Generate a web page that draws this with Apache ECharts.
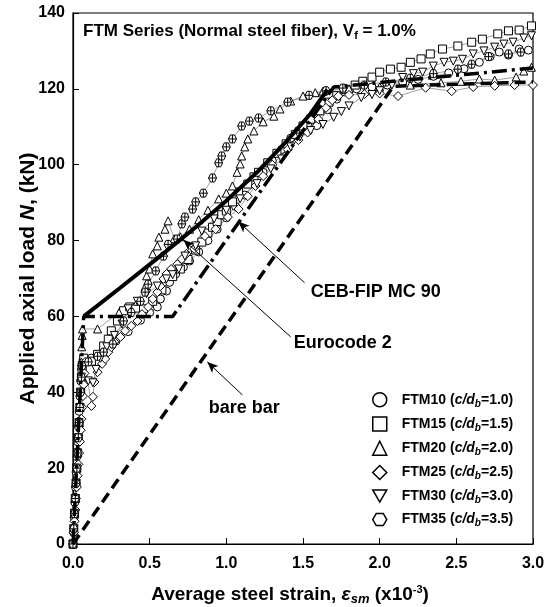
<!DOCTYPE html>
<html>
<head>
<meta charset="utf-8">
<script src="https://cdn.jsdelivr.net/npm/echarts@6/dist/echarts.min.js"></script>
<style>html,body{margin:0;padding:0;background:#fff}#main{width:546px;height:607px}</style>
</head>
<body>
<div id="main"></div>
<script>
// specimens and c/db ratios
var specimens = ['FTM10', 'FTM15', 'FTM20', 'FTM25', 'FTM30', 'FTM35'];
var cdRatios = ['1.0', '1.5', '2.0', '2.5', '3.0', '3.5'];
var strainTicks = [0, 0.5, 1.0, 1.5, 2.0, 2.5, 3.0];
var loadTicks = [0, 20, 40, 60, 80, 100, 120, 140];

// test data [strain x10^-3, load kN]
var ftm10 = [[0,0],[0.004,3],[0.008,7],[0.012,11],[0.016,15],[0.02,19],[0.025,23],[0.03,27],[0.035,31],[0.04,35],[0.045,39],[0.05,43],[0.055,46],[0.065,48.5],
  [0.12,49],[0.2,51],[0.28,53.5],[0.36,56],[0.44,59],[0.5,61],[0.55,62.5],[0.57,64.6],[0.61,66.7],[0.63,69],[0.67,71.2],[0.72,73],[0.76,74.6],[0.82,77],
  [0.88,80],[0.94,83],[1.0,86],[1.06,89],[1.12,92],[1.18,95],[1.24,98],[1.3,101],[1.36,104],[1.42,107],[1.47,109],[1.53,110.7],[1.59,110.3],[1.66,114.5],
  [1.72,117.3],[1.77,119.2],[1.85,120],[1.95,120.5],[2.05,121],[2.15,121.8],[2.25,122.5],[2.35,123.3],[2.45,124.2],[2.55,125.3],[2.65,127],[2.72,128.5],
  [2.78,129.7],[2.84,128.9],[2.91,130.5],[2.97,130.2]];
var ftm15 = [[0,0],[0.005,4],[0.01,8],[0.015,12],[0.02,16],[0.025,20],[0.03,24],[0.035,28],[0.04,32],[0.045,36],[0.05,40],[0.055,44],[0.06,47],[0.07,49],
  [0.12,48.2],[0.16,50],[0.2,52.2],[0.23,54],[0.25,56.2],[0.29,58.8],[0.33,61.5],[0.37,62.5],[0.41,62.2],[0.46,62],[0.52,64],[0.58,67],[0.65,70.5],[0.7,72.5],
  [0.75,75],[0.8,77.5],[0.84,79.6],[0.88,82],[0.91,83.5],[0.94,85],[0.97,86.8],[1.0,87.8],[1.04,90.2],[1.08,92.8],[1.14,94.9],[1.18,96.8],[1.21,98],
  [1.27,100.5],[1.33,103],[1.39,105.5],[1.45,108],[1.5,110.2],[1.55,112],[1.61,114.2],[1.67,116.5],[1.72,118.2],[1.78,119.8],[1.84,121],[1.89,122],
  [1.95,123.1],[2.0,124.4],[2.07,125.2],[2.14,125.7],[2.2,127],[2.27,127.9],[2.33,129.2],[2.41,130.5],[2.51,131.3],[2.6,132.3],[2.67,133.1],[2.77,134.5],
  [2.84,135.3],[2.91,135.5],[2.99,136.6]];
var ftm20 = [[0,0],[0.005,4],[0.01,8],[0.015,12],[0.02,16],[0.025,20],[0.03,24],[0.035,28],[0.04,32],[0.045,36],[0.05,40],[0.052,44],[0.055,48],[0.057,52],
  [0.06,55],[0.062,56.7],[0.16,56.7],[0.3,61],[0.42,64],[0.47,67.8],[0.48,70.7],[0.5,72.5],[0.52,76.5],[0.55,78.6],[0.56,80.9],[0.6,83],[0.62,85.2],
  [0.66,80.5],[0.7,81],[0.76,83],[0.82,85.5],[0.88,88],[0.95,91],[1.0,92.5],[1.04,94.4],[1.07,98],[1.09,100.2],[1.1,102.3],[1.12,104.7],[1.14,106.8],
  [1.18,108.9],[1.24,111.3],[1.31,112.8],[1.35,114.7],[1.42,116.8],[1.5,118.1],[1.58,119],[1.63,119.4],[1.8,120],[2.0,120.5],[2.2,121],[2.4,121.6],
  [2.53,122],[2.65,122.6],[2.75,122.3],[2.89,123.1],[2.94,124.7],[2.99,125.7]];
var ftm25 = [[0,0],[0.005,3],[0.01,6],[0.015,9],[0.02,12],[0.025,15],[0.03,18],[0.035,21],[0.04,24],[0.045,27],[0.05,30],[0.055,33],[0.06,36],[0.065,39],
  [0.07,42],[0.075,45],[0.08,48],[0.12,36.4],[0.13,38.8],[0.14,42.7],[0.16,45.3],[0.19,47.5],[0.21,48.8],[0.23,50.6],[0.25,51.9],[0.27,53.3],[0.31,54.6],
  [0.34,56.2],[0.38,57.5],[0.42,58.8],[0.45,60.6],[0.49,62.5],[0.52,64.6],[0.55,66.4],[0.57,68],[0.59,69.9],[0.61,71.2],[0.64,72.5],[0.68,73.8],[0.71,75.1],
  [0.74,76.5],[0.79,77.8],[0.86,81.2],[0.93,83],[1.01,86.2],[1.08,88.3],[1.14,91.7],[1.19,94.4],[1.24,97],[1.3,100],[1.4,104],[1.47,106.5],[1.53,108.5],
  [1.6,112],[1.65,115],[1.69,117],[1.73,118.1],[1.8,118.4],[1.9,118.6],[2.0,118.8],[2.12,118.1],[2.3,120.3],[2.47,119.4],[2.61,120.5],[2.75,120.8],
  [2.88,121],[3.0,121]];
var ftm30 = [[0,0],[0.005,4],[0.01,8],[0.015,12],[0.02,16],[0.025,20],[0.03,24],[0.035,28],[0.04,32],[0.045,36],[0.05,40],[0.055,44],[0.06,47],[0.1,43],
  [0.13,42.5],[0.15,46],[0.18,49],[0.22,52],[0.27,55],[0.32,58],[0.36,62],[0.42,64],[0.48,66],[0.55,68],[0.61,69.9],[0.65,71],[0.69,72.5],[0.73,75.9],
  [0.8,78.6],[0.84,82.5],[0.92,85.7],[1.0,88],[1.09,91],[1.2,95],[1.29,98.9],[1.36,101.5],[1.42,104.7],[1.48,107.3],[1.55,109],[1.63,110.6],[1.7,112.5],
  [1.75,114],[1.8,115.5],[1.88,117.7],[1.95,118.5],[2.0,119.5],[2.08,121],[2.15,123],[2.22,124],[2.28,124.4],[2.35,126],[2.42,127],[2.48,127.3],[2.54,127.8],
  [2.61,129.2],[2.68,130],[2.75,131],[2.81,131.8],[2.87,132.3],[2.94,133.4],[2.99,134]];
var ftm35 = [[0,0],[0.005,4],[0.01,8],[0.015,12],[0.02,16],[0.025,20],[0.03,24],[0.035,28],[0.04,32],[0.045,36],[0.05,40],[0.055,44],[0.06,47],[0.1,48],
  [0.16,49.5],[0.2,50.6],[0.26,52.7],[0.33,58.8],[0.38,61],[0.44,64],[0.47,66.4],[0.49,68.5],[0.54,72],[0.59,75.9],[0.62,79],[0.68,80.4],[0.71,84.4],
  [0.73,86.2],[0.78,88.3],[0.8,90.2],[0.85,92.5],[0.91,96.5],[0.95,100.5],[0.97,102.3],[1.0,104.7],[1.04,106.8],[1.1,110.2],[1.15,111.5],[1.21,112.3],
  [1.29,114.2],[1.4,116.5],[1.54,118.3],[1.65,119.5],[1.76,120.2],[1.9,121],[2.04,121.8],[2.2,122.8],[2.35,124],[2.51,125.2],[2.6,126.5],[2.71,128.5],
  [2.84,129.2],[2.92,129.7]];

// model predictions
var bareBar = [[0,0],[2.09,120.7],[3.0,121.8]];
var eurocode2 = [[0,0],[0.07,60],[0.65,60],[1.7,120.5],[3.0,125.5]];
var cebFip = [[0.07,60],[0.3,67.3],[0.55,75.3],[0.8,83.5],[1.0,90.5],[1.2,98],[1.4,106.5],[1.55,113.5],[1.66,119.8]];

// arrows: [tail, head] and label anchor
var arrowCeb = [[1.51,68.9],[1.078,85]];
var arrowEc2 = [[1.42,54.6],[0.72,80.2]];
var arrowBare = [[1.105,39.3],[0.876,48]];
var labelCeb = [1.55,66.5];
var labelEc2 = [1.44,53];
var labelBare = [0.885,35.9];

var font = 'Liberation Sans, Arial, sans-serif';
var downTri = 'path://M0,0L20,0L10,17.3Z';
var hexPlain = 'path://M0,8.66L5,0L15,0L20,8.66L15,17.32L5,17.32Z';
var hexCross = 'path://M0,8.66L5,0L15,0L20,8.66L15,17.32L5,17.32Z M10,0L10,17.32 M0,8.66L20,8.66';
var symbols = ['circle', 'rect', 'triangle', 'diamond', downTri, hexCross];
var legendIcons = ['circle', 'rect', 'triangle', 'diamond', downTri, hexPlain];
var allData = [ftm10, ftm15, ftm20, ftm25, ftm30, ftm35];

var chart = echarts.init(document.getElementById('main'));

var series = [];
for (var i = 0; i < specimens.length; i++) {
  series.push({
    name: specimens[i],
    type: 'line',
    data: allData[i],
    symbol: symbols[i],
    symbolSize: i == 3 ? 9 : 8,
    lineStyle: {color: '#8a8a8a', width: 0.8},
    itemStyle: {color: '#fff', borderColor: '#000', borderWidth: 1},
    z: 2
  });
}
series.push({
  name: 'bare', type: 'line', data: bareBar, symbol: 'none', z: 4,
  lineStyle: {color: '#000', width: 3.5, type: [11, 6]},
  markLine: {
    silent: true, symbol: ['none', 'arrow'], symbolSize: [7, 11],
    label: {show: false},
    lineStyle: {color: '#000', width: 1, type: 'solid'},
    data: [
      [{coord: arrowCeb[0]}, {coord: arrowCeb[1]}],
      [{coord: arrowEc2[0]}, {coord: arrowEc2[1]}],
      [{coord: arrowBare[0]}, {coord: arrowBare[1]}]
    ]
  }
});
series.push({
  name: 'ec2', type: 'line', data: eurocode2, symbol: 'none', z: 4,
  lineStyle: {color: '#000', width: 3.5, type: [15, 5, 3, 5]}
});
series.push({
  name: 'ceb', type: 'line', data: cebFip, symbol: 'none', z: 4,
  lineStyle: {color: '#000', width: 4}
});

var legendData = specimens.map(function (s, i) { return {name: s, icon: legendIcons[i]}; });

option = {
  animation: false,
  backgroundColor: '#fff',
  grid: {left: 73, right: 13, top: 13, bottom: 63, show: true, borderColor: '#000', borderWidth: 1.2, outerBoundsMode: 'none'},
  legend: {
    data: legendData,
    orient: 'vertical',
    left: 367, top: 387,
    itemWidth: 14, itemHeight: 14, itemGap: 7.5,
    itemStyle: {color: '#fff', borderColor: '#000', borderWidth: 1.5},
    formatter: function (name) {
      var k = specimens.indexOf(name);
      return '{g| }{b|' + name + ' (}{i|c/d}{s|b}{b|=' + cdRatios[k] + ')}';
    },
    textStyle: {
      rich: {
        g: {width: 10, fontSize: 14, lineHeight: 18},
        b: {fontFamily: font, fontWeight: 'bold', fontSize: 14, color: '#000', lineHeight: 18},
        i: {fontFamily: font, fontWeight: 'bold', fontStyle: 'italic', fontSize: 14, color: '#000', lineHeight: 18},
        s: {fontFamily: font, fontWeight: 'bold', fontStyle: 'italic', fontSize: 10, color: '#000', verticalAlign: 'bottom'}
      }
    }
  },
  xAxis: {
    type: 'value', min: 0, max: 3, interval: 0.5,
    axisLine: {lineStyle: {color: '#000', width: 1.2}},
    axisTick: {inside: true, length: 6, lineStyle: {color: '#000'}},
    splitLine: {show: false},
    axisLabel: {margin: 12, color: '#000', fontFamily: font, fontWeight: 'bold', fontSize: 16,
      formatter: function (v) { return strainTicks.indexOf(v) >= 0 ? v.toFixed(1) : ''; }},
    name: '{n|Average steel strain, }{e|ε}{s|sm}{n| (x10}{p|-3}{n|)}',
    nameLocation: 'middle', nameGap: 40, nameMoveOverlap: false,
    nameTextStyle: {
      padding: [0, 26, 0, 0],
      rich: {
        n: {fontFamily: font, fontWeight: 'bold', fontSize: 19, color: '#000', lineHeight: 22},
        e: {fontFamily: font, fontWeight: 'bold', fontStyle: 'italic', fontSize: 19, color: '#000', lineHeight: 22},
        s: {fontFamily: font, fontWeight: 'bold', fontStyle: 'italic', fontSize: 13, color: '#000', verticalAlign: 'bottom'},
        p: {fontFamily: font, fontWeight: 'bold', fontSize: 11, color: '#000', verticalAlign: 'top'}
      }
    }
  },
  yAxis: {
    type: 'value', min: 0, max: 140, interval: 20,
    axisLine: {lineStyle: {color: '#000', width: 1.2}},
    axisTick: {inside: true, length: 6, lineStyle: {color: '#000'}},
    splitLine: {show: false},
    axisLabel: {margin: 8, color: '#000', fontFamily: font, fontWeight: 'bold', fontSize: 16,
      formatter: function (v) { return loadTicks.indexOf(v) >= 0 ? String(v) : ''; }},
    name: '{n|Applied axial load }{i|N}{n|, (kN)}',
    nameLocation: 'middle', nameGap: 34, nameMoveOverlap: false,
    nameTextStyle: {
      rich: {
        n: {fontFamily: font, fontWeight: 'bold', fontSize: 21, color: '#000'},
        i: {fontFamily: font, fontWeight: 'bold', fontStyle: 'italic', fontSize: 21, color: '#000'}
      }
    }
  },
  series: series
};
chart.setOption(option);

// texts placed in data coordinates
function txt(pos, str, size) {
  var p = chart.convertToPixel({gridIndex: 0}, pos);
  return {type: 'text', x: p[0], y: p[1], z: 10,
    style: {text: str, font: 'bold ' + size + 'px ' + font, fill: '#000', verticalAlign: 'middle'}};
}
chart.setOption({
  graphic: [
    {type: 'text', left: 83, top: 23, z: 10,
      style: {
        text: '{t|FTM Series (Normal steel fiber), V}{s|f}{t| = 1.0%}',
        rich: {
          t: {fontFamily: font, fontWeight: 'bold', fontSize: 17, fill: '#000', lineHeight: 19},
          s: {fontFamily: font, fontWeight: 'bold', fontSize: 11, fill: '#000', verticalAlign: 'bottom'}
        }
      }},
    txt(labelCeb, 'CEB-FIP MC 90', 18),
    txt(labelEc2, 'Eurocode 2', 18),
    txt(labelBare, 'bare bar', 18)
  ]
});
</script>
</body>
</html>
